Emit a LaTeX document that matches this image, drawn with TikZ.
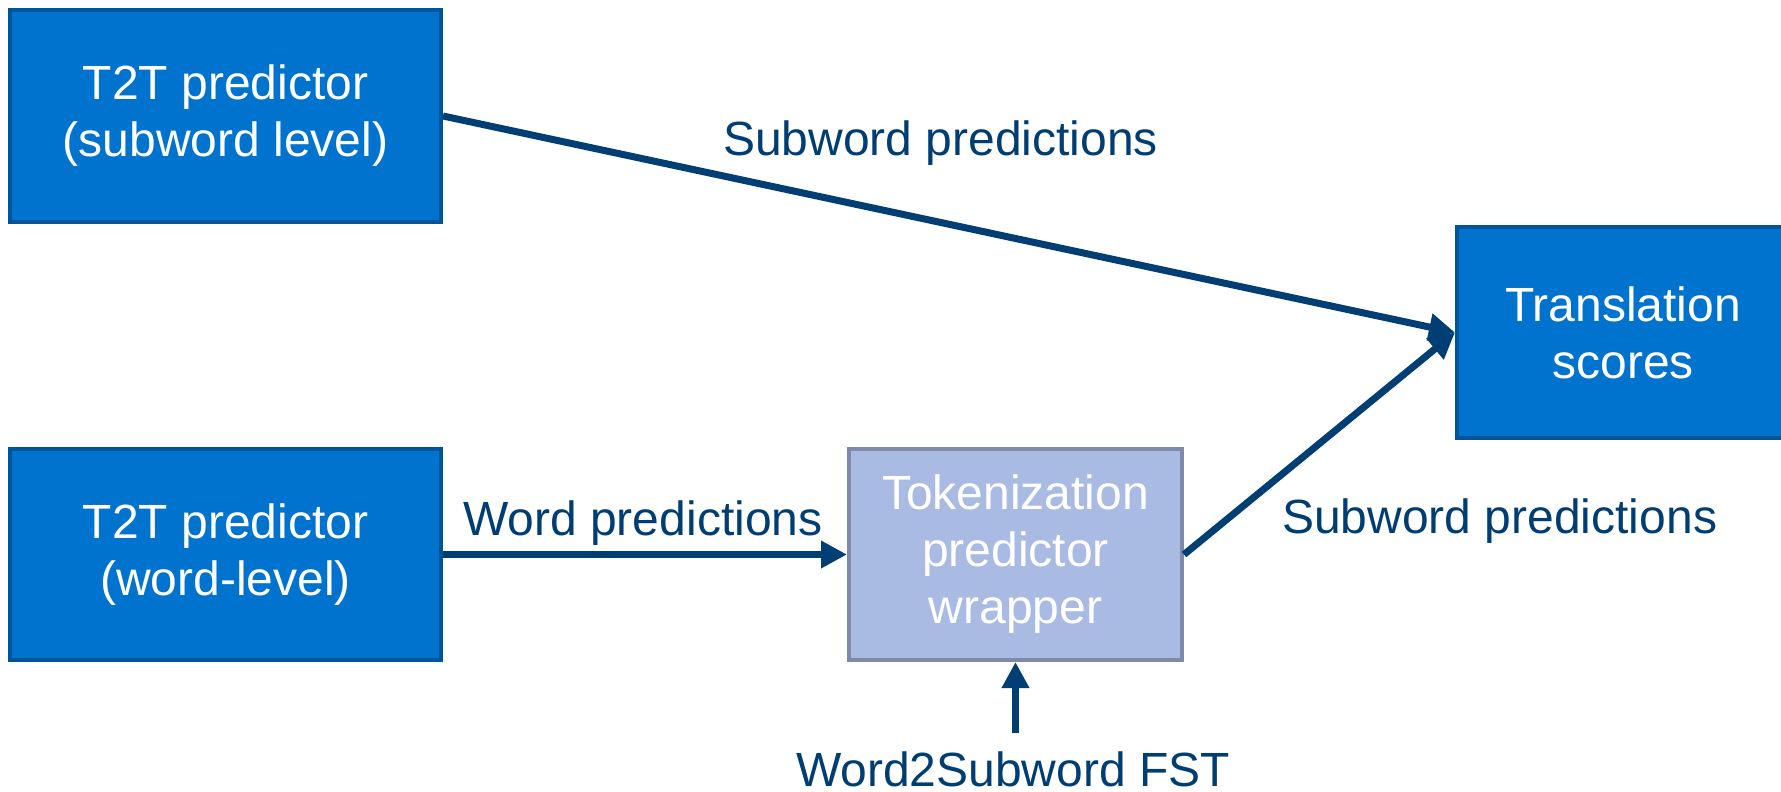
\documentclass[tikz,border=0pt]{standalone}
\usepackage{fontspec}
\setmainfont{Liberation Sans}
\usetikzlibrary{arrows.meta}
\definecolor{boxfill}{RGB}{0,115,207}
\definecolor{boxline}{RGB}{0,84,154}
\definecolor{tokfill}{RGB}{170,187,227}
\definecolor{tokline}{RGB}{127,138,170}
\definecolor{navytxt}{RGB}{0,61,115}
\definecolor{arrowc}{RGB}{0,62,116}
\begin{document}
\begin{tikzpicture}[x=1bp,y=-1bp,
  every node/.style={font=\fontsize{48bp}{57bp}\selectfont},
  bluebox/.style={rectangle, draw=boxline, fill=boxfill, line width=4bp, text=white, align=center, inner sep=0pt},
  tokbox/.style={rectangle, draw=tokline, fill=tokfill, line width=4bp, text=white, align=center, inner sep=0pt},
  lbl/.style={text=navytxt, inner sep=0pt},
  conn/.style={draw=arrowc, line width=7bp, -{Triangle[length=26bp,width=26bp]}}
]
\useasboundingbox (0,0) rectangle (1781,792);
\clip (0,0) rectangle (1781,792);
\fill[white] (0,0) rectangle (1781,792);

\node[bluebox, minimum width=431bp, minimum height=212bp] (sub) at (225.5,116) {T2T predictor\\(subword level)};
\node[bluebox, minimum width=431bp, minimum height=211bp] (word) at (225.5,554.5) {T2T predictor\\(word-level)};
\node[tokbox, minimum width=333bp, minimum height=211bp] (tok) at (1015.5,554.5) {Tokenization\\predictor\\wrapper};
\node[bluebox, minimum width=332bp, minimum height=211bp] (trans) at (1623,332.5) {Translation\\scores};

\node[lbl, anchor=base west] (l1) at (723,155) {Subword predictions};
\node[lbl, anchor=base west] (l2) at (463,535) {Word predictions};
\node[lbl, anchor=base west] (l3) at (1282,533) {Subword predictions};
\node[lbl, anchor=base] (fst) at (1013,786) {Word2Subword FST};
\coordinate (fstin) at (1015.5,733);

\draw[conn] (sub.east) -- (trans.west);
\draw[conn] (tok.east) -- (trans.west);
\draw[conn] (word.east) -- (tok.west);
\draw[conn] (fstin) -- (tok.south);
\end{tikzpicture}
\end{document}
